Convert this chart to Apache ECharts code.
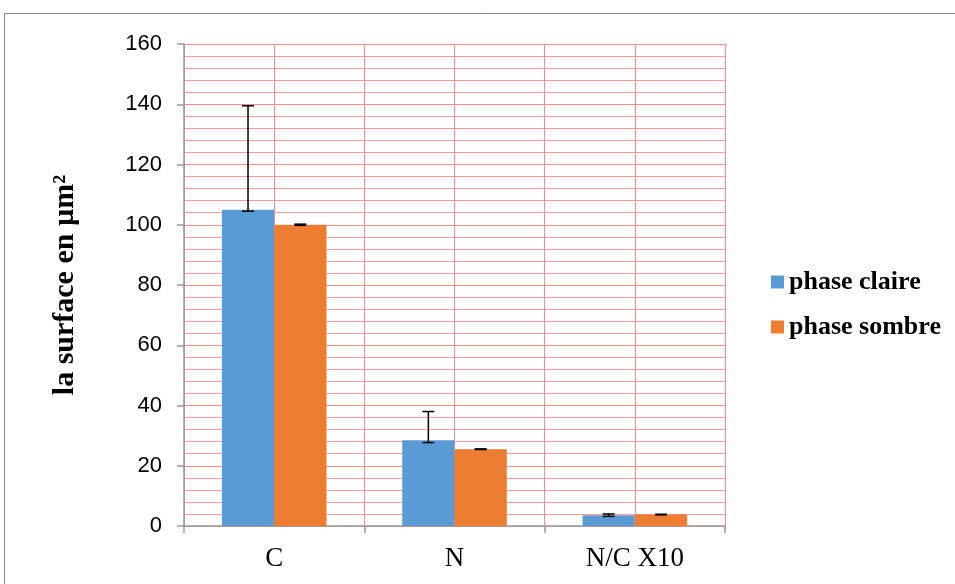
<!DOCTYPE html>
<html><head><meta charset="utf-8">
<script src="https://cdn.jsdelivr.net/npm/echarts@6/dist/echarts.min.js"></script>
<style>html,body{margin:0;padding:0;background:#fff}#c{width:955px;height:584px}</style>
</head><body><div id="c"></div>
<script>
var categories = ['C', 'N', 'N/C X10'];
var seriesNames = ['phase claire', 'phase sombre'];
var claire = [105, 28.5, 3.6];
var sombre = [100, 25.5, 3.8];
var claireErrPlus = [34.5, 9.5, 0.4];
var claireErrMinus = [0.5, 0.8, 0.4];
var sombreErrPlus = [0.2, 0.1, 0.1];
var sombreErrMinus = [0.2, 0.1, 0.1];
var yTicks = [0, 20, 40, 60, 80, 100, 120, 140, 160];

var colors = ['#5b9bd5', '#ed7d31'];
var gapFrac = 0.42;

function errSeries(vals, plus, minus, idx) {
  var data = vals.map(function (v, i) { return [i, v + plus[i], v - minus[i]]; });
  return {
    type: 'custom', silent: true, z: 10,
    data: data,
    renderItem: function (params, api) {
      var ci = api.value(0);
      var hi = api.coord([ci, api.value(1)]);
      var lo = api.coord([ci, api.value(2)]);
      var catW = api.size([1, 0])[0];
      var bw = catW * (1 - gapFrac) / 2;
      var x = hi[0] + (idx === 0 ? -bw / 2 : bw / 2);
      var cap = 6;
      var st = { stroke: '#000', lineWidth: 1.5 };
      return { type: 'group', children: [
        { type: 'line', shape: { x1: x, y1: hi[1], x2: x, y2: lo[1] }, style: st },
        { type: 'line', shape: { x1: x - cap, y1: hi[1], x2: x + cap, y2: hi[1] }, style: st },
        { type: 'line', shape: { x1: x - cap, y1: lo[1], x2: x + cap, y2: lo[1] }, style: st }
      ]};
    }
  };
}

var chart = echarts.init(document.getElementById('c'));
chart.setOption({
  animation: false,
  graphic: [{ type: 'rect', shape: { x: 4.5, y: 13.5, width: 960, height: 600 }, style: { fill: 'none', stroke: '#888', lineWidth: 1 }, silent: true }],
  grid: { left: 184, right: 230, top: 44, bottom: 58 },
  legend: {
    orient: 'vertical', left: 766, top: 264, itemGap: 19,
    itemWidth: 13, itemHeight: 13,
    icon: 'rect',
    data: seriesNames,
    textStyle: { fontFamily: 'Liberation Serif', fontWeight: 'bold', fontSize: 26, color: '#000' }
  },
  xAxis: [{
    type: 'category', data: categories,
    axisLine: { lineStyle: { color: '#999', width: 1.5 } },
    axisTick: { show: true, length: 7, lineStyle: { color: '#999', width: 1.5 } },
    axisLabel: { fontFamily: 'Liberation Serif', fontSize: 27, color: '#000', margin: 19 },
    splitLine: { show: false }
  }, {
    type: 'value', min: 0, max: 6, interval: 1, position: 'top', show: true,
    axisLine: { show: false }, axisTick: { show: false }, axisLabel: { show: false },
    splitLine: { show: true, lineStyle: { color: '#ff8a8a', width: 1 } }
  }],
  yAxis: {
    type: 'value', min: 0, max: 160, interval: 20,
    name: 'la surface en µm²', nameLocation: 'middle', nameGap: 104,
    nameTextStyle: { fontFamily: 'Liberation Serif', fontWeight: 'bold', fontSize: 30, color: '#000' },
    axisLine: { show: true, lineStyle: { color: '#999', width: 1.5 } },
    axisTick: { show: true, length: 7, lineStyle: { color: '#999', width: 1.5 } },
    axisLabel: { fontFamily: 'Liberation Sans', fontSize: 22, color: '#000', margin: 22 },
    splitLine: { show: true, lineStyle: { color: '#ff8a8a', width: 1 } },
    minorTick: { show: false, splitNumber: 5 },
    minorSplitLine: { show: true, lineStyle: { color: '#ff9a9a', width: 1 } }
  },
  series: [
    { name: seriesNames[0], type: 'bar', data: claire, barGap: '0%', barCategoryGap: '42%', itemStyle: { color: colors[0] } },
    { name: seriesNames[1], type: 'bar', data: sombre, barGap: '0%', barCategoryGap: '42%', itemStyle: { color: colors[1] } },
    errSeries(claire, claireErrPlus, claireErrMinus, 0),
    errSeries(sombre, sombreErrPlus, sombreErrMinus, 1)
  ]
});
</script></body></html>
